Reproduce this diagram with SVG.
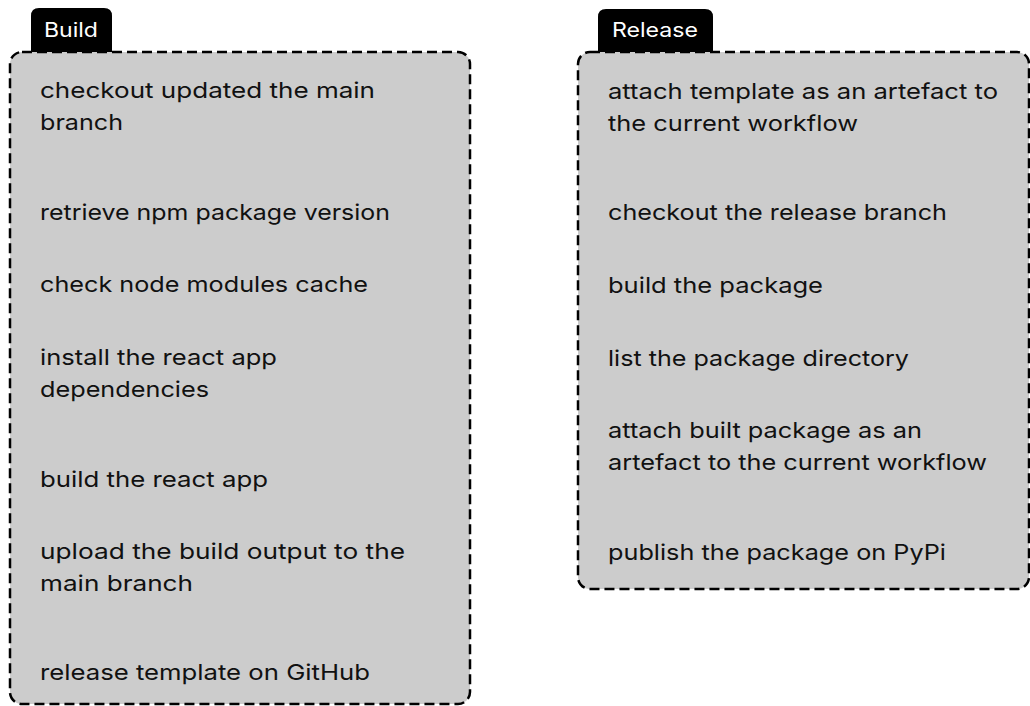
<svg xmlns="http://www.w3.org/2000/svg" width="1030" height="706" viewBox="0 0 1030 706">
<style>
.box{fill:#cccccc;stroke:#000;stroke-width:2.5;stroke-dasharray:10 5}
.tab{fill:#000}
.tabt{font-family:Inter,"Open Sans",sans-serif;font-size:20px;fill:#fff}
.t{font-family:Inter,"Open Sans",sans-serif;font-size:22px;fill:#111}
</style>
<rect width="1030" height="706" fill="#fff"/>
<g id="build">
<path class="tab" d="M31,52 V16 Q31,8 39,8 H104 Q112,8 112,16 V52 Z"/>
<text class="tabt" x="44" y="37" textLength="54" lengthAdjust="spacingAndGlyphs">Build</text>
<rect class="box" x="10" y="52" width="460" height="652" rx="12"/>
<text class="t" x="40" y="98" textLength="335" lengthAdjust="spacingAndGlyphs">checkout updated the main</text>
<text class="t" x="40" y="130" textLength="83" lengthAdjust="spacingAndGlyphs">branch</text>
<text class="t" x="40" y="220" textLength="350" lengthAdjust="spacingAndGlyphs">retrieve npm package version</text>
<text class="t" x="40" y="292" textLength="328" lengthAdjust="spacingAndGlyphs">check node modules cache</text>
<text class="t" x="40" y="365" textLength="237" lengthAdjust="spacingAndGlyphs">install the react app</text>
<text class="t" x="40" y="397" textLength="169" lengthAdjust="spacingAndGlyphs">dependencies</text>
<text class="t" x="40" y="487" textLength="228" lengthAdjust="spacingAndGlyphs">build the react app</text>
<text class="t" x="40" y="559" textLength="365" lengthAdjust="spacingAndGlyphs">upload the build output to the</text>
<text class="t" x="40" y="591" textLength="153" lengthAdjust="spacingAndGlyphs">main branch</text>
<text class="t" x="40" y="680" textLength="330" lengthAdjust="spacingAndGlyphs">release template on GitHub</text>
</g>
<g id="release">
<path class="tab" d="M598,52 V17 Q598,9 606,9 H705 Q713,9 713,17 V52 Z"/>
<text class="tabt" x="612" y="37" textLength="86" lengthAdjust="spacingAndGlyphs">Release</text>
<rect class="box" x="578" y="52" width="451" height="537" rx="12"/>
<text class="t" x="608" y="99" textLength="390" lengthAdjust="spacingAndGlyphs">attach template as an artefact to</text>
<text class="t" x="608" y="131" textLength="250" lengthAdjust="spacingAndGlyphs">the current workflow</text>
<text class="t" x="608" y="220" textLength="339" lengthAdjust="spacingAndGlyphs">checkout the release branch</text>
<text class="t" x="608" y="293" textLength="215" lengthAdjust="spacingAndGlyphs">build the package</text>
<text class="t" x="608" y="366" textLength="301" lengthAdjust="spacingAndGlyphs">list the package directory</text>
<text class="t" x="608" y="438" textLength="314" lengthAdjust="spacingAndGlyphs">attach built package as an</text>
<text class="t" x="608" y="470" textLength="379" lengthAdjust="spacingAndGlyphs">artefact to the current workflow</text>
<text class="t" x="608" y="560" textLength="338" lengthAdjust="spacingAndGlyphs">publish the package on PyPi</text>
</g>
<g id="connectors"></g>
</svg>
